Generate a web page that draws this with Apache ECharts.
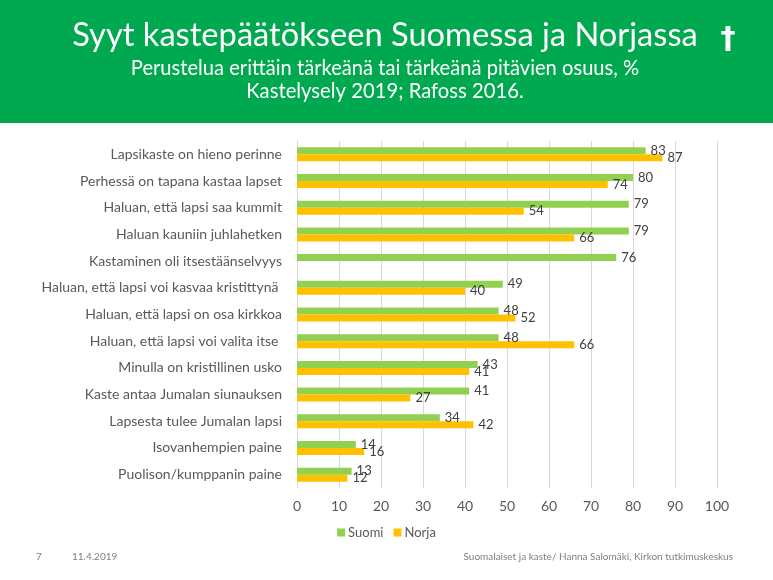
<!DOCTYPE html>
<html>
<head>
<meta charset="utf-8">
<script src="https://cdn.jsdelivr.net/npm/echarts@6/dist/echarts.min.js"></script>
<style>
html,body{margin:0;padding:0;background:#fff;}
#main{width:773px;height:580px;}
</style>
</head>
<body>
<div id="main"></div>
<script>
var categories = [
  "Lapsikaste on hieno perinne",
  "Perhessä on tapana kastaa lapset",
  "Haluan, että lapsi saa kummit",
  "Haluan kauniin juhlahetken",
  "Kastaminen oli itsestäänselvyys",
  "Haluan, että lapsi voi kasvaa kristittynä ",
  "Haluan, että lapsi on osa kirkkoa",
  "Haluan, että lapsi voi valita itse ",
  "Minulla on kristillinen usko",
  "Kaste antaa Jumalan siunauksen",
  "Lapsesta tulee Jumalan lapsi",
  "Isovanhempien paine",
  "Puolison/kumppanin paine"
];
var suomi = [83, 80, 79, 79, 76, 49, 48, 48, 43, 41, 34, 14, 13];
var norja = [87, 74, 54, 66, null, 40, 52, 66, 41, 27, 42, 16, 12];
var seriesNames = ["Suomi", "Norja"];
var xTicks = { min: 0, max: 100, interval: 10 };

var titleText = "Syyt kastepäätökseen Suomessa ja Norjassa";
var subtitle1 = "Perustelua erittäin tärkeänä tai tärkeänä pitävien osuus, %";
var subtitle2 = "Kastelysely 2019; Rafoss 2016.";
var footerPage = "7";
var footerDate = "11.4.2019";
var footerRight = "Suomalaiset ja kaste/ Hanna Salomäki, Kirkon tutkimuskeskus";

var chart = echarts.init(document.getElementById('main'), null, {renderer: 'canvas'});
var FONT = 'Lato';
var labelStyle = {
  show: true, position: 'right', distance: 5,
  color: '#404040', fontSize: 13, fontFamily: FONT
};
chart.setOption({
  animation: false,
  backgroundColor: '#ffffff',
  graphic: [
    { type: 'rect', shape: {x: 0, y: 0, width: 773, height: 123}, style: {fill: '#00A94F'}, silent: true, z: -1 },
    { type: 'text', x: 385, y: 52, scaleX: 1.02, style: { text: titleText, fill: '#ffffff', font: '32px Lato', textAlign: 'center', textVerticalAlign: 'bottom' } },
    { type: 'text', x: 385, y: 79, scaleX: 0.915, style: { text: subtitle1, fill: '#ffffff', font: '22px Lato', textAlign: 'center', textVerticalAlign: 'bottom' } },
    { type: 'text', x: 385, y: 102, scaleX: 0.92, style: { text: subtitle2, fill: '#ffffff', font: '22px Lato', textAlign: 'center', textVerticalAlign: 'bottom' } },
    { type: 'text', x: 728, y: 40, style: { text: '†', fill: '#ffffff', font: 'bold 30px "DejaVu Sans"', textAlign: 'center', textVerticalAlign: 'middle' } },
    { type: 'text', x: 36, y: 557, style: { text: footerPage, fill: '#808080', font: '10px Lato', textAlign: 'left', textVerticalAlign: 'middle' } },
    { type: 'text', x: 72, y: 557, style: { text: footerDate, fill: '#808080', font: '10px Lato', textAlign: 'left', textVerticalAlign: 'middle' } },
    { type: 'text', x: 733, y: 557, style: { text: footerRight, fill: '#808080', font: '10px Lato', textAlign: 'right', textVerticalAlign: 'middle' } }
  ],
  legend: {
    data: seriesNames,
    top: 521, left: 'center',
    icon: 'rect', itemWidth: 8, itemHeight: 8, itemGap: 10,
    textStyle: { color: '#595959', fontSize: 13, fontFamily: FONT, padding: [0, 0, 0, -2] }
  },
  grid: { left: 297, right: 56, top: 141, bottom: 92, containLabel: false },
  xAxis: {
    type: 'value', min: xTicks.min, max: xTicks.max, interval: xTicks.interval,
    axisLine: { show: false }, axisTick: { show: false },
    splitLine: { show: true, lineStyle: { color: '#d9d9d9', width: 1 } },
    axisLabel: { color: '#595959', fontSize: 14, fontFamily: FONT, margin: 11 }
  },
  yAxis: {
    type: 'category', data: categories, inverse: true,
    axisLine: { show: true, lineStyle: { color: '#d9d9d9' } },
    axisTick: { show: false },
    axisLabel: { color: '#595959', fontSize: 14, fontFamily: FONT, margin: 15 }
  },
  series: [
    { name: seriesNames[0], type: 'bar', data: suomi, barWidth: 7, barGap: '0%',
      itemStyle: { color: '#92D050' }, label: labelStyle },
    { name: seriesNames[1], type: 'bar', data: norja, barWidth: 7, barGap: '0%',
      itemStyle: { color: '#FFC000' }, label: labelStyle }
  ]
});
</script>
</body>
</html>
